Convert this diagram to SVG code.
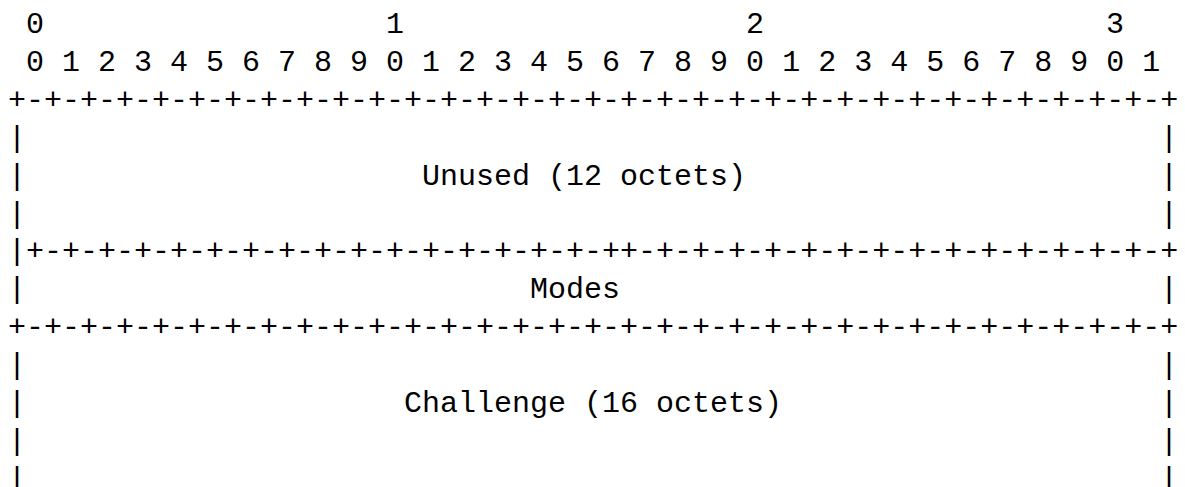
<svg xmlns="http://www.w3.org/2000/svg" width="1185" height="487" viewBox="0 0 1185 487">
<style>
text { font-family: "Liberation Mono", "DejaVu Sans Mono", monospace; font-size: 30px; fill: #000; white-space: pre; }
</style>
<rect x="0" y="0" width="1185" height="487" fill="#fff"/>
<g id="ruler">
<text x="26" y="33">0</text>
<text x="386" y="33">1</text>
<text x="746" y="33">2</text>
<text x="1106" y="33">3</text>
<text x="8" y="70.9" xml:space="preserve"> 0 1 2 3 4 5 6 7 8 9 0 1 2 3 4 5 6 7 8 9 0 1 2 3 4 5 6 7 8 9 0 1</text>
</g>
<g id="unused">
<text x="8" y="108.8">+-+-+-+-+-+-+-+-+-+-+-+-+-+-+-+-+-+-+-+-+-+-+-+-+-+-+-+-+-+-+-+-+</text>
<text x="8" y="146.7">|</text><text x="1160" y="146.7">|</text>
<text x="8" y="184.6">|</text><text x="422" y="184.6" xml:space="preserve">Unused (12 octets)</text><text x="1160" y="184.6">|</text>
<text x="8" y="222.5">|</text><text x="1160" y="222.5">|</text>
</g>
<g id="modes">
<text x="8" y="260.4">|+-+-+-+-+-+-+-+-+-+-+-+-+-+-+-+-++-+-+-+-+-+-+-+-+-+-+-+-+-+-+-+</text>
<text x="8" y="298.3">|</text><text x="530" y="298.3">Modes</text><text x="1160" y="298.3">|</text>
<text x="8" y="336.2">+-+-+-+-+-+-+-+-+-+-+-+-+-+-+-+-+-+-+-+-+-+-+-+-+-+-+-+-+-+-+-+-+</text>
</g>
<g id="challenge">
<text x="8" y="374.1">|</text><text x="1160" y="374.1">|</text>
<text x="8" y="412">|</text><text x="404" y="412" xml:space="preserve">Challenge (16 octets)</text><text x="1160" y="412">|</text>
<text x="8" y="449.9">|</text><text x="1160" y="449.9">|</text>
<text x="8" y="487.8">|</text><text x="1160" y="487.8">|</text>
</g>
</svg>
